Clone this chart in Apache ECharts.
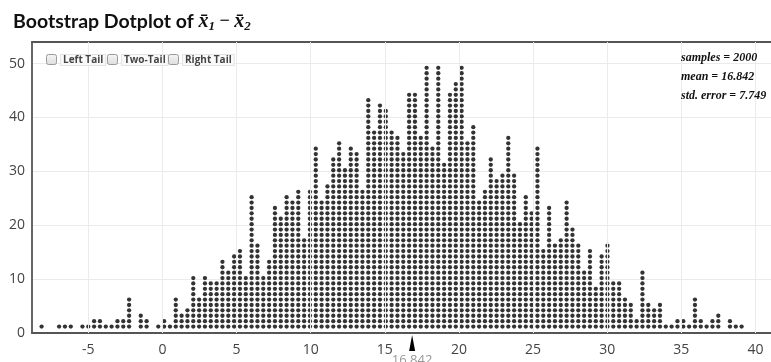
<!DOCTYPE html>
<html><head><meta charset="utf-8">
<script src="https://cdn.jsdelivr.net/npm/echarts@6/dist/echarts.min.js"></script>
<style>html,body{margin:0;padding:0;background:#fff}#c{width:771px;height:362px}</style>
</head><body><div id="c"></div>
<script>
// dot counts per column, read left to right
const counts = [
 1,0,0,1,1,1,0,1,1,2,
 2,1,1,2,2,6,0,3,2,0,
 1,2,1,6,3,4,10,6,10,9,
 9,13,11,14,15,10,25,16,10,13,
 23,21,25,24,26,17,26,34,24,27,
 32,35,30,34,33,26,43,37,42,41,
 37,36,33,44,44,36,49,34,49,31,
 44,46,49,35,38,24,26,32,28,29,
 36,29,20,25,22,34,15,23,16,17,
 24,19,16,11,15,8,14,16,9,9,
 6,5,2,11,5,4,5,1,1,2,
 2,1,6,2,1,2,3,0,2,1,1
];
const binStart = -8.152;
const binWidth = 0.3935;
const xTicks = [-5,0,5,10,15,20,25,30,35,40];
const yTicks = [0,10,20,30,40,50];
const statsLines = ['samples = 2000','mean = 16.842','std. error = 7.749'];
const meanValue = 16.842;
const tailOptions = ['Left Tail','Two-Tail','Right Tail'];

const dotLift = 0.2;
const dots = [];
counts.forEach((n, j) => {
  const x = binStart + binWidth * j;
  for (let k = 1; k <= n; k++) dots.push([x, k + dotLift]);
});

const chart = echarts.init(document.getElementById('c'), null, {renderer: 'canvas'});
const X_MIN = -8.8, X_MAX = 41.05;
const axisFont = '"Open Sans", "Noto Sans", sans-serif';

const graphics = [];
const boxX = [46, 107, 168];
tailOptions.forEach((t, i) => {
  graphics.push({
    type: 'rect', left: boxX[i], top: 54,
    shape: {width: 10, height: 10, r: 2},
    style: {fill: new echarts.graphic.LinearGradient(0,0,0,1,[{offset:0,color:'#f6f6f6'},{offset:1,color:'#dcdcdc'}]), stroke: '#9a9a9a', lineWidth: 1},
    z: 100
  });
  graphics.push({
    type: 'text', left: boxX[i] + 14, top: 54,
    style: {text: t, font: 'bold 10px "Open Sans", sans-serif', fill: '#444',
      backgroundColor: 'rgba(250,250,250,0.9)', borderColor: '#e4e4e4', borderWidth: 1, padding: [0, 2]},
    z: 100
  });
});
statsLines.forEach((s, i) => {
  graphics.push({
    type: 'text', left: 681, top: 52 + i * 19,
    style: {text: s, font: 'italic bold 12px "Liberation Serif", serif', fill: '#111'},
    z: 100
  });
});

const option = {
  animation: false,
  backgroundColor: '#fff',
  title: {
    text: '{t|Bootstrap Dotplot of }{m|x\u0304}{s|1}{o| \u2212 }{m|x\u0304}{s|2}',
    left: 8, top: 5,
    textStyle: {
      rich: {
        t: {fontFamily: 'Lato, "Open Sans", sans-serif', fontWeight: 'bold', fontSize: 19.5, color: '#111'},
        m: {fontFamily: '"Liberation Serif", serif', fontStyle: 'italic', fontSize: 20, color: '#111'},
        s: {fontFamily: '"Liberation Serif", serif', fontStyle: 'italic', fontSize: 13, color: '#111', padding: [10, 0, 0, 0]},
        o: {fontFamily: '"Liberation Serif", serif', fontSize: 18, color: '#111'}
      }
    }
  },
  grid: {left: 32, right: 0, top: 42, bottom: 29, containLabel: false},
  xAxis: [{
    type: 'value', min: X_MIN, max: X_MAX,
    axisLine: {show: true, onZero: false, lineStyle: {color: '#555', width: 2}},
    axisTick: {show: false},
    splitLine: {show: false},
    axisLabel: {customValues: xTicks, color: '#444', fontSize: 14, margin: 10, fontFamily: axisFont}
  }, {
    type: 'value', position: 'top', min: X_MIN, max: X_MAX,
    axisLine: {show: true, onZero: false, lineStyle: {color: '#555', width: 2}},
    axisTick: {show: false}, splitLine: {show: false}, axisLabel: {show: false}
  }],
  yAxis: {
    type: 'value', min: 0, max: 54, interval: 10,
    axisLine: {show: true, onZero: false, lineStyle: {color: '#666', width: 2}},
    axisTick: {show: false},
    splitLine: {show: true, lineStyle: {color: '#ebebeb', width: 1}},
    axisLabel: {customValues: yTicks, color: '#444', fontSize: 14, margin: 7, fontFamily: axisFont}
  },
  series: [{
    type: 'line', data: [], z: 1, silent: true,
    markLine: {
      silent: true, symbol: 'none', label: {show: false}, animation: false,
      lineStyle: {color: '#ebebeb', width: 1, type: 'solid'},
      data: xTicks.map(v => ({xAxis: v}))
    }
  }, {
    type: 'scatter', data: dots, symbol: 'circle', symbolSize: 4.3, clip: false,
    itemStyle: {color: '#000'}, silent: true, z: 3
  }],
  graphic: graphics
};
chart.setOption(option);

// mean marker below the x axis, positioned through the axis scale
const mx = chart.convertToPixel({xAxisIndex: 0}, meanValue);
const y0 = chart.convertToPixel({yAxisIndex: 0}, 0);
chart.setOption({
  graphic: graphics.concat([{
    type: 'polygon', z: 100,
    shape: {points: [[mx, y0 + 2], [mx + 3, y0 + 18], [mx - 3, y0 + 18]]},
    style: {fill: '#000'}
  }, {
    type: 'text', z: 100, x: mx, y: y0 + 21,
    style: {text: String(meanValue), font: '13px "Open Sans", sans-serif', fill: '#999', textAlign: 'center', textVerticalAlign: 'top'}
  }])
});
</script></body></html>
